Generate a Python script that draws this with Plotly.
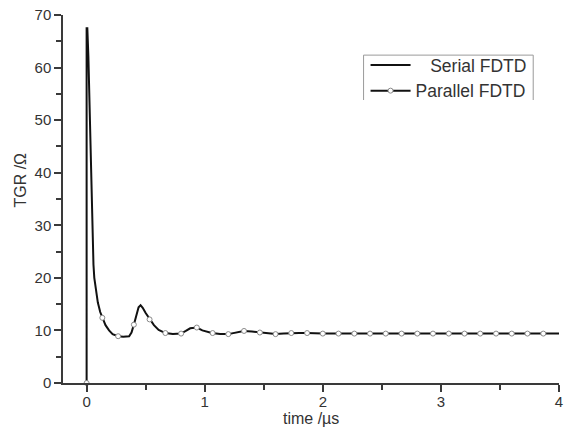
import plotly.graph_objects as go

# Serial FDTD transient grounding resistance (time in µs, TGR in ohm)
t_serial = [0, 0, 0.006, 0.015, 0.025, 0.033, 0.042, 0.05, 0.058, 0.065, 0.079,
            0.095, 0.115, 0.134, 0.16, 0.19, 0.22, 0.266, 0.31, 0.36, 0.38, 0.40,
            0.42, 0.44, 0.457, 0.475, 0.50, 0.535, 0.57, 0.61, 0.667, 0.73, 0.80,
            0.84, 0.877, 0.933, 0.98, 1.06, 1.13, 1.2, 1.27, 1.33, 1.40, 1.465,
            1.53, 1.6, 1.67, 1.73, 1.80, 1.865, 2.0, 2.5, 3.0, 3.5, 4.0]
v_serial = [0, 67.5, 67.5, 62, 53, 42, 32, 26, 22.5, 20, 17.5,
            15.3, 13.5, 12.4, 11.0, 10.0, 9.3, 8.9, 8.8, 8.9, 9.6, 11.1,
            13.0, 14.4, 14.8, 14.3, 13.3, 12.1, 11.0, 10.1, 9.5, 9.3, 9.4,
            9.9, 10.4, 10.55, 10.0, 9.5, 9.3, 9.3, 9.6, 9.9, 9.8, 9.6,
            9.4, 9.3, 9.4, 9.5, 9.5, 9.5, 9.4, 9.4, 9.4, 9.4, 9.4]

# Parallel FDTD samples
t_parallel = [0.0, 0.133, 0.267, 0.4, 0.533, 0.667, 0.8, 0.933, 1.067, 1.2,
              1.333, 1.467, 1.6, 1.733, 1.867, 2.0, 2.133, 2.267, 2.4, 2.533,
              2.667, 2.8, 2.933, 3.067, 3.2, 3.333, 3.467, 3.6, 3.733, 3.867]
v_parallel = [0, 12.4, 8.9, 11.1, 12.1, 9.5, 9.4, 10.55, 9.5, 9.3,
              9.9, 9.6, 9.3, 9.5, 9.5, 9.4, 9.4, 9.4, 9.4, 9.4,
              9.4, 9.4, 9.4, 9.4, 9.4, 9.4, 9.4, 9.4, 9.4, 9.4]

x_ticks = [0, 1, 2, 3, 4]
y_ticks = [0, 10, 20, 30, 40, 50, 60, 70]

FONT = "Liberation Sans, Arial, sans-serif"
AXIS = "#3a3a3a"
TEXT = "#333333"
marker_style = dict(symbol="circle", size=5, color="white",
                    line=dict(color="#8a8a8a", width=1))

fig = go.Figure()
fig.add_trace(go.Scatter(
    x=t_serial, y=v_serial, mode="lines", name="\u00a0\u00a0\u00a0Serial FDTD",
    line=dict(color="#111111", width=2), legendgroup="s"))
# legend entry for the parallel run (line with symbol)
fig.add_trace(go.Scatter(
    x=[None], y=[None], mode="lines+markers", name="Parallel FDTD",
    line=dict(color="#111111", width=2), marker=marker_style,
    legendgroup="p"))
fig.add_trace(go.Scatter(
    x=t_parallel, y=v_parallel, mode="markers", name="Parallel FDTD",
    marker=marker_style, legendgroup="p", showlegend=False,
    cliponaxis=False))

axis_common = dict(
    showline=True, linecolor=AXIS, linewidth=1.5, mirror=False,
    showgrid=False, zeroline=False, ticks="outside", ticklen=7,
    tickwidth=1.5, tickcolor=AXIS,
    tickfont=dict(family=FONT, size=15, color=TEXT),
)
fig.update_xaxes(range=[-0.2, 4], tickvals=x_ticks,
                 ticklabeloverflow="allow", ticklabelstandoff=-3,
                 minor=dict(ticks="outside", ticklen=5, tickwidth=1.5,
                            tickcolor=AXIS, dtick=0.5, tick0=0),
                 **axis_common)
fig.update_yaxes(range=[0, 70], tickvals=y_ticks,
                 minor=dict(ticks="outside", ticklen=5, tickwidth=1.5,
                            tickcolor=AXIS, dtick=5, tick0=0),
                 **axis_common)

fig.add_annotation(text="TGR /\u03a9", xref="paper", yref="paper",
                   x=-0.086, y=0.551, textangle=-90, showarrow=False,
                   xanchor="center", yanchor="middle",
                   font=dict(family=FONT, size=16, color=TEXT))
fig.add_annotation(text="time /\u00b5s", xref="paper", yref="paper",
                   x=0.5, y=-0.096, showarrow=False,
                   xanchor="center", yanchor="middle",
                   font=dict(family=FONT, size=16, color=TEXT))

# legend frame (open at the bottom)
fig.add_shape(type="path", xref="paper", yref="paper",
              path="M 0.606 0.769 L 0.606 0.891 L 0.948 0.891 L 0.948 0.769",
              line=dict(color="#9a9a9a", width=1))

fig.update_layout(
    width=564, height=429,
    margin=dict(l=63, r=1, t=15, b=46),
    paper_bgcolor="white", plot_bgcolor="white",
    showlegend=True,
    legend=dict(x=0.61, y=0.913, xanchor="left", yanchor="top",
                borderwidth=0, bgcolor="rgba(0,0,0,0)",
                font=dict(family=FONT, size=17.5, color=TEXT),
                tracegroupgap=0, itemwidth=40),
)

fig.write_html("out.html")
